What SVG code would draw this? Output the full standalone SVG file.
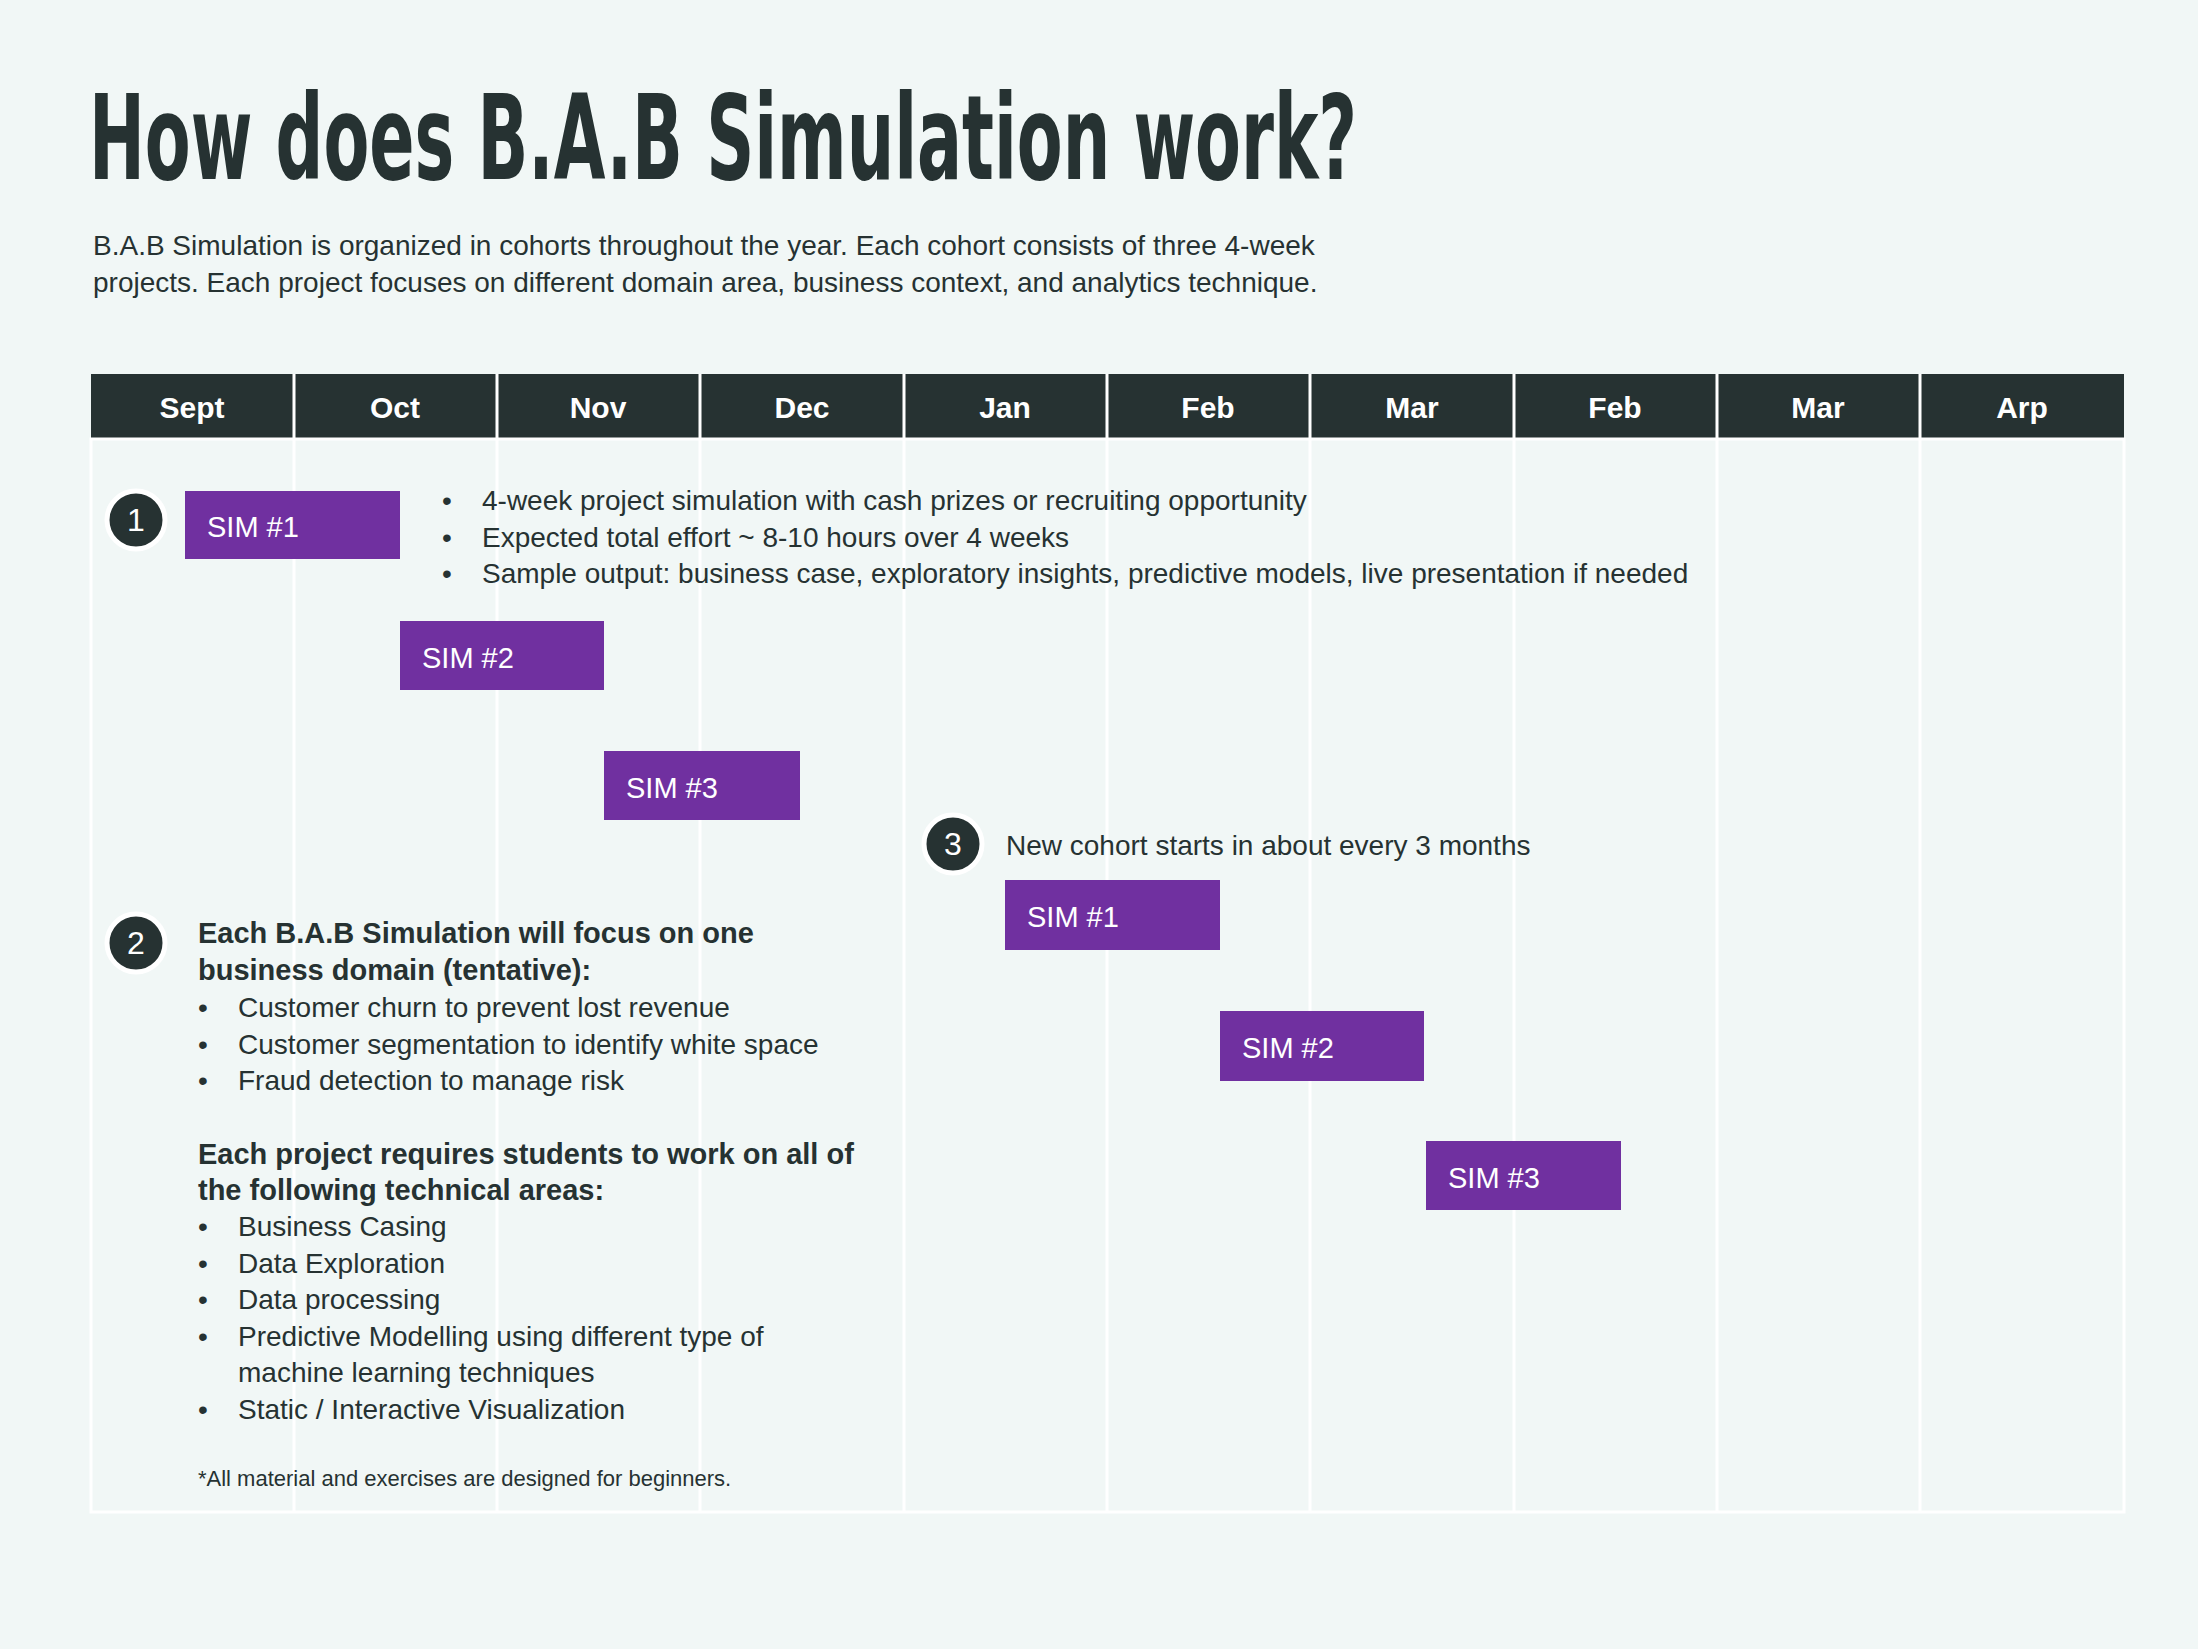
<svg xmlns="http://www.w3.org/2000/svg" width="2198" height="1649" viewBox="0 0 2198 1649">
<style>
.t{font-family:"Liberation Sans",Arial,sans-serif;fill:#263232}
.h{font-family:"Liberation Sans",Arial,sans-serif;font-weight:bold;font-size:30px;fill:#fff;text-anchor:middle}
.s{font-family:"Liberation Sans",Arial,sans-serif;font-size:29px;fill:#fff}
.bar{fill:#7030A0}
.g{stroke:#fff;stroke-width:3}
.c{fill:#263232;stroke:#fff;stroke-width:5}
.cn{font-family:"Liberation Sans",Arial,sans-serif;font-size:32px;fill:#fff;text-anchor:middle}
.b{font-size:28px}
.bb{font-size:29px;font-weight:bold}
</style>
<rect width="2198" height="1649" fill="#F1F7F6"/>
<text class="t" x="89" y="179" font-family="DejaVu Sans Condensed" font-weight="bold" font-size="118" textLength="1268" lengthAdjust="spacingAndGlyphs" style="font-family:'DejaVu Sans Condensed','Liberation Sans',sans-serif">How does B.A.B Simulation work?</text>
<text class="t" font-size="28"><tspan x="93" y="255">B.A.B Simulation is organized in cohorts throughout the year. Each cohort consists of three 4-week</tspan><tspan x="93" y="292">projects. Each project focuses on different domain area, business context, and analytics technique.</tspan></text>
<g id="grid">
<rect x="91" y="374" width="2033" height="65" fill="#263232"/>
<rect x="91" y="439" width="2033" height="1073" fill="none" class="g"/>
<g class="g">
<line x1="294" y1="374" x2="294" y2="1512"/><line x1="497" y1="374" x2="497" y2="1512"/><line x1="700" y1="374" x2="700" y2="1512"/><line x1="904" y1="374" x2="904" y2="1512"/><line x1="1107" y1="374" x2="1107" y2="1512"/><line x1="1310" y1="374" x2="1310" y2="1512"/><line x1="1514" y1="374" x2="1514" y2="1512"/><line x1="1717" y1="374" x2="1717" y2="1512"/><line x1="1920" y1="374" x2="1920" y2="1512"/>
</g>
<text class="h" y="418"><tspan x="192">Sept</tspan><tspan x="395">Oct</tspan><tspan x="598">Nov</tspan><tspan x="802">Dec</tspan><tspan x="1005">Jan</tspan><tspan x="1208">Feb</tspan><tspan x="1412">Mar</tspan><tspan x="1615">Feb</tspan><tspan x="1818">Mar</tspan><tspan x="2022">Arp</tspan></text>
</g>
<g id="bars">
<rect class="bar" x="185" y="491" width="215" height="68"/><text class="s" x="207" y="537">SIM #1</text>
<rect class="bar" x="400" y="621" width="204" height="69"/><text class="s" x="422" y="668">SIM #2</text>
<rect class="bar" x="604" y="751" width="196" height="69"/><text class="s" x="626" y="798">SIM #3</text>
<rect class="bar" x="1005" y="880" width="215" height="70"/><text class="s" x="1027" y="927">SIM #1</text>
<rect class="bar" x="1220" y="1011" width="204" height="70"/><text class="s" x="1242" y="1058">SIM #2</text>
<rect class="bar" x="1426" y="1141" width="195" height="69"/><text class="s" x="1448" y="1188">SIM #3</text>
</g>
<g id="markers">
<circle class="c" cx="136" cy="520" r="29"/><text class="cn" x="136" y="531">1</text>
<circle class="c" cx="136" cy="943" r="29"/><text class="cn" x="136" y="954">2</text>
<circle class="c" cx="953" cy="844" r="29"/><text class="cn" x="953" y="855">3</text>
</g>
<g id="notes">
<text class="t b"><tspan x="442" y="510">•</tspan><tspan x="482" y="510">4-week project simulation with cash prizes or recruiting opportunity</tspan><tspan x="442" y="547">•</tspan><tspan x="482" y="547">Expected total effort ~ 8-10 hours over 4 weeks</tspan><tspan x="442" y="583">•</tspan><tspan x="482" y="583">Sample output: business case, exploratory insights, predictive models, live presentation if needed</tspan></text>
<text class="t b" x="1006" y="855">New cohort starts in about every 3 months</text>
<text class="t bb"><tspan x="198" y="943">Each B.A.B Simulation will focus on one</tspan><tspan x="198" y="980">business domain (tentative):</tspan></text>
<text class="t b"><tspan x="198" y="1017">•</tspan><tspan x="238" y="1017">Customer churn to prevent lost revenue</tspan><tspan x="198" y="1054">•</tspan><tspan x="238" y="1054">Customer segmentation to identify white space</tspan><tspan x="198" y="1090">•</tspan><tspan x="238" y="1090">Fraud detection to manage risk</tspan></text>
<text class="t bb"><tspan x="198" y="1164">Each project requires students to work on all of</tspan><tspan x="198" y="1200">the following technical areas:</tspan></text>
<text class="t b"><tspan x="198" y="1236">•</tspan><tspan x="238" y="1236">Business Casing</tspan><tspan x="198" y="1273">•</tspan><tspan x="238" y="1273">Data Exploration</tspan><tspan x="198" y="1309">•</tspan><tspan x="238" y="1309">Data processing</tspan><tspan x="198" y="1346">•</tspan><tspan x="238" y="1346">Predictive Modelling using different type of</tspan><tspan x="238" y="1382">machine learning techniques</tspan><tspan x="198" y="1419">•</tspan><tspan x="238" y="1419">Static / Interactive Visualization</tspan></text>
<text class="t" font-size="22" x="198" y="1486">*All material and exercises are designed for beginners.</text>
</g>
</svg>
